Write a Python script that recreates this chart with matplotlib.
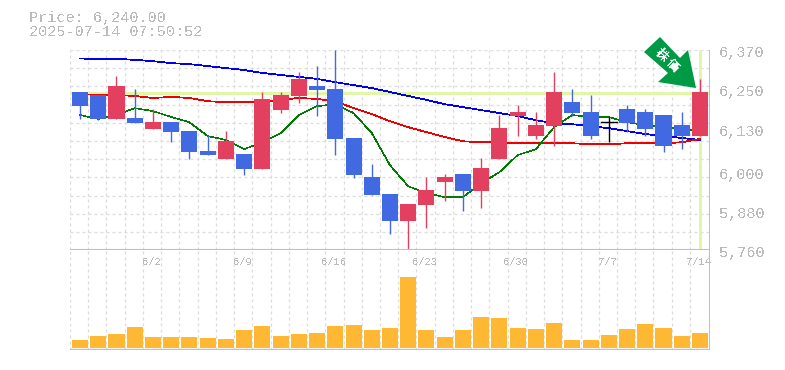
import matplotlib
matplotlib.use("Agg")
import matplotlib.pyplot as plt
from matplotlib.patches import Polygon, Rectangle

W, H = 785, 370

# price header
last_price = 6240.00
timestamp = "2025-07-14 07:50:52"

opens = [6242, 6233, 6160, 6163, 6129, 6150, 6123, 6062, 6038, 6053, 6007, 6187,
         6230, 6260, 6251, 6102, 5983, 5931, 5848, 5897, 5967, 5992, 5940, 6038,
         6169, 6108, 6138, 6211, 6181, 6150, 6190, 6181, 6172, 6141, 6108]
highs = [6242, 6233, 6291, 6251, 6190, 6150, 6123, 6111, 6123, 6053, 6242, 6242,
         6303, 6321, 6370, 6102, 6022, 5931, 5900, 5983, 5992, 5992, 6041, 6172,
         6202, 6181, 6303, 6251, 6233, 6166, 6202, 6190, 6172, 6181, 6282]
lows = [6160, 6157, 6160, 6147, 6129, 6089, 6038, 6050, 6038, 5989, 6007, 6178,
        6208, 6169, 6050, 5980, 5928, 5809, 5757, 5827, 5909, 5879, 5888, 6038,
        6108, 6099, 6077, 6169, 6099, 6089, 6120, 6108, 6059, 6068, 6108]
closes = [6199, 6160, 6260, 6147, 6150, 6120, 6059, 6050, 6092, 6007, 6221, 6233,
          6282, 6248, 6099, 5989, 5928, 5848, 5900, 5943, 5983, 5940, 6010, 6132,
          6181, 6141, 6242, 6178, 6108, 6150, 6147, 6129, 6077, 6108, 6242]

ma_short = [6172, 6160, 6172, 6193, 6184, 6166, 6150, 6108, 6096, 6068, 6089, 6117,
            6172, 6199, 6205, 6178, 6117, 6019, 5955, 5934, 5922, 5922, 5964, 5998,
            6050, 6068, 6135, 6172, 6166, 6166, 6150, 6141, 6135, 6129, 6123]
ma_mid = [6236, 6233, 6233, 6230, 6224, 6227, 6224, 6214, 6211, 6211, 6211, 6218,
          6224, 6221, 6214, 6193, 6175, 6153, 6135, 6120, 6105, 6092, 6089, 6089,
          6086, 6086, 6086, 6086, 6083, 6083, 6086, 6086, 6086, 6089, 6099]
ma_long = [6344, 6343, 6343, 6340, 6336, 6330, 6327, 6321, 6315, 6309, 6300, 6294,
           6288, 6282, 6272, 6263, 6254, 6242, 6230, 6218, 6205, 6196, 6187, 6178,
           6169, 6156, 6147, 6144, 6138, 6132, 6123, 6114, 6108, 6102, 6096]

volumes = [8, 12, 14, 21, 11, 11, 11, 10, 9, 18, 22, 12, 14, 15, 22, 23, 18, 20,
           71, 18, 11, 18, 31, 30, 20, 19, 25, 8, 8, 13, 19, 24, 20, 12, 15]

date_idx = [4, 9, 14, 19, 24, 29, 34]
date_labels = ["6/2", "6/9", "6/16", "6/23", "6/30", "7/7", "7/14"]
price_ticks = [6370, 6250, 6130, 6000, 5880, 5760]

UP = "#e34060"
DOWN = "#4169e1"
GRID = "#dcdcdc"
AXIS = "#c0c0c0"
TEXT = "#bbbbbb"
HILITE = "#e2f6a8"

plt.rcParams["text.antialiased"] = False

fig = plt.figure(figsize=(W / 100, H / 100), dpi=100)
ax = fig.add_axes([70 / W, 1 - 250.3 / H, 640 / W, 200.3 / H])
vax = fig.add_axes([70 / W, 1 - 350 / H, 640 / W, 99.7 / H], sharex=ax)

x = list(range(len(closes)))
for a in (ax, vax):
    a.set_xlim(-0.55, 34.55)
    for s in a.spines.values():
        s.set_visible(False)
    a.tick_params(length=0, labelbottom=False, labelleft=False)
    for i in x:
        a.axvline(i - 0.55, color=GRID, lw=0.9, ls=(0, (2.4, 2.4)), zorder=0)

ax.set_ylim(5760, 6370)
# grid is every 18.2px, not at the labelled prices
step = 610 / 11
for k in range(12):
    ax.axhline(5760 + k * step, color=GRID, lw=0.9, ls=(0, (2.4, 2.4)), zorder=0)

ax.axhline(last_price, color=HILITE, lw=2.2, zorder=1)
ax.plot([x[-1], x[-1]], [5765, 6370], color=HILITE, lw=2.2, zorder=1, solid_capstyle="butt")

ax.plot(x, ma_long, color="#0000ee", lw=0.55, zorder=2, antialiased=False)
ax.plot(x, ma_mid, color="#ee0000", lw=0.55, zorder=2, antialiased=False)
ax.plot(x, ma_short, color="#007a00", lw=0.4, zorder=2, antialiased=False)

for i in x:
    o, h, l, c = opens[i], highs[i], lows[i], closes[i]
    col = UP if c > o else DOWN if c < o else "black"
    ax.plot([i, i], [l, h], color=col, lw=1.0, zorder=3, solid_capstyle="butt")
    if c == o:
        ax.plot([i - 0.44, i + 0.44], [c, c], color=col, lw=1.0, zorder=3)
    else:
        ax.add_patch(Rectangle((i - 0.44, min(o, c)), 0.88, abs(c - o), fc=col, ec="none", zorder=4))

vax.set_ylim(-2, 97.7)
vax.bar(x, volumes, width=0.88, color="#ffb833", zorder=3)

# axis lines, price axis labels, date labels
ax.axhline(5760, color=AXIS, lw=1.5, zorder=5)
vax.axhline(-2, color=AXIS, lw=2.4, zorder=5)
ax.axvline(34.55, color=AXIS, lw=2.2, zorder=5)
vax.axvline(34.55, color=AXIS, lw=2.2, zorder=5)

for p in price_ticks:
    ax.annotate(f"{p:,}", xy=(1, p), xycoords=("axes fraction", "data"), xytext=(6.5, -2.2),
                textcoords="offset points", color=TEXT, fontsize=11, family="Liberation Mono",
                va="center", ha="left", annotation_clip=False)
for i, lab in zip(date_idx, date_labels):
    vax.annotate(lab, xy=(i, 1), xycoords=("data", "axes fraction"), xytext=(-1, -8.5),
                 textcoords="offset points", color=TEXT, fontsize=7.5, family="Liberation Mono",
                 va="center", ha="center", annotation_clip=False)

fig.text(29 / W, 1 - 18 / H, f"Price: {last_price:,.2f}", color=TEXT, fontsize=11,
         family="Liberation Mono", va="center")
fig.text(29 / W, 1 - 32.5 / H, timestamp, color=TEXT, fontsize=11, family="Liberation Mono", va="center")

# green marker arrow, in pixels of the figure
arrow_px = [(660, 37), (680, 58), (688, 50), (696, 88), (658, 82), (668, 73), (644, 52)]
fig.add_artist(Polygon([(px / W, 1 - py / H) for px, py in arrow_px], closed=True,
                       transform=fig.transFigure, fc="#009944", ec="none", zorder=6))
for (tx, ty, ch) in [(661, 55, "株"), (672, 65, "価")]:
    fig.text(tx / W, 1 - ty / H, ch, color="white", fontsize=9, fontweight="bold", rotation=-45,
             family=["Noto Sans CJK JP", "DejaVu Sans"], ha="center", va="center", zorder=7)

fig.savefig("out.png", dpi=100)
